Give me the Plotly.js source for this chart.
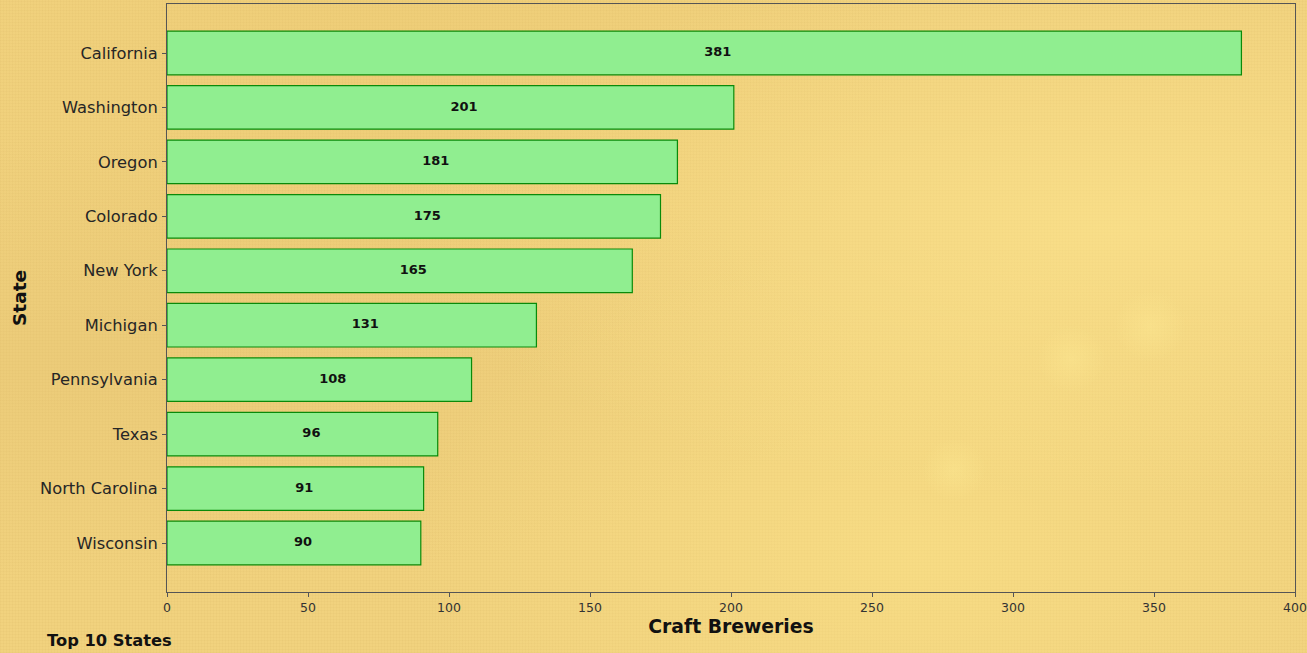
<!DOCTYPE html>
<html>
<head>
<meta charset="utf-8">
<script src="https://cdn.plot.ly/plotly-3.0.1.min.js"></script>
<style>
html, body { margin:0; padding:0; width:1307px; height:653px; overflow:hidden; }
body {
  background-color:#f1d27e;
  background-image:
    radial-gradient(circle at 82% 55%, rgba(255,236,150,0.35) 0%, rgba(255,236,150,0) 3%),
    radial-gradient(circle at 88% 50%, rgba(255,236,150,0.35) 0%, rgba(255,236,150,0) 3%),
    radial-gradient(circle at 73% 72%, rgba(255,236,150,0.35) 0%, rgba(255,236,150,0) 3%),
    radial-gradient(ellipse at 85% 35%, rgba(255,232,145,0.55) 0%, rgba(255,232,145,0) 45%),
    radial-gradient(ellipse at 70% 85%, rgba(255,232,140,0.45) 0%, rgba(255,232,140,0) 40%),
    radial-gradient(ellipse at 8% 55%, rgba(225,190,110,0.35) 0%, rgba(225,190,110,0) 45%),
    radial-gradient(ellipse at 30% 8%, rgba(232,195,105,0.3) 0%, rgba(232,195,105,0) 40%),
    repeating-linear-gradient(90deg, rgba(180,140,60,0.05) 0px, rgba(180,140,60,0.05) 1px, rgba(0,0,0,0) 1px, rgba(0,0,0,0) 3px),
    repeating-linear-gradient(0deg, rgba(180,140,60,0.05) 0px, rgba(180,140,60,0.05) 1px, rgba(0,0,0,0) 1px, rgba(0,0,0,0) 3px);
}
#chart { width:1307px; height:653px; }
</style>
</head>
<body>
<div id="chart"></div>
<script>
const states = ["California","Washington","Oregon","Colorado","New York","Michigan","Pennsylvania","Texas","North Carolina","Wisconsin"];
const breweries = [381, 201, 181, 175, 165, 131, 108, 96, 91, 90];
const xTicks = [0, 50, 100, 150, 200, 250, 300, 350, 400];

const font = "DejaVu Sans, sans-serif";

const bars = {
  type: "bar",
  orientation: "h",
  x: breweries,
  y: states,
  width: 0.8,
  marker: { color: "#90ee90", line: { color: "#0a8a0a", width: 1.2 } },
  hoverinfo: "x+y"
};

// value labels, left-aligned starting at half the bar length
const labels = {
  type: "scatter",
  mode: "text",
  x: breweries.map(v => v / 2),
  y: states,
  text: breweries.map(String),
  textposition: "middle right",
  textfont: { family: font, size: 13, color: "#111", weight: "bold" },
  hoverinfo: "skip",
  cliponaxis: false
};

const layout = {
  width: 1307, height: 653,
  margin: { l: 167, r: 12, t: 4, b: 61 },
  paper_bgcolor: "rgba(0,0,0,0)",
  plot_bgcolor: "rgba(0,0,0,0)",
  showlegend: false,
  font: { family: font, color: "#262626" },
  xaxis: {
    range: [0, 400],
    tickvals: xTicks,
    ticktext: xTicks.map(String),
    ticks: "outside", ticklen: 4, tickcolor: "#555", tickwidth: 1,
    tickfont: { family: font, size: 12.5, color: "#333" },
    showgrid: false, zeroline: false,
    showline: true, linecolor: "#555", linewidth: 1, mirror: true,
    title: { text: "Craft Breweries", font: { family: font, size: 18.8, color: "#111", weight: "bold" }, standoff: 5 }
  },
  yaxis: {
    type: "category",
    categoryorder: "array",
    categoryarray: states,
    range: [9.9, -0.9],
    ticks: "outside", ticklen: 4, tickcolor: "#555", tickwidth: 1,
    ticklabelstandoff: 1,
    tickfont: { family: font, size: 16.3, color: "#262626" },
    showgrid: false, zeroline: false,
    showline: true, linecolor: "#555", linewidth: 1, mirror: true,
    title: { text: "State", font: { family: font, size: 18.5, color: "#111", weight: "bold" }, standoff: 8 }
  },
  annotations: [{
    text: "<b>Top 10 States</b>",
    xref: "paper", yref: "paper",
    x: -0.1085, y: -0.082,
    xanchor: "left", yanchor: "middle",
    showarrow: false,
    font: { family: font, size: 16.3, color: "#111" }
  }]
};

Plotly.newPlot("chart", [bars, labels], layout, { displayModeBar: false });
</script>
</body>
</html>
